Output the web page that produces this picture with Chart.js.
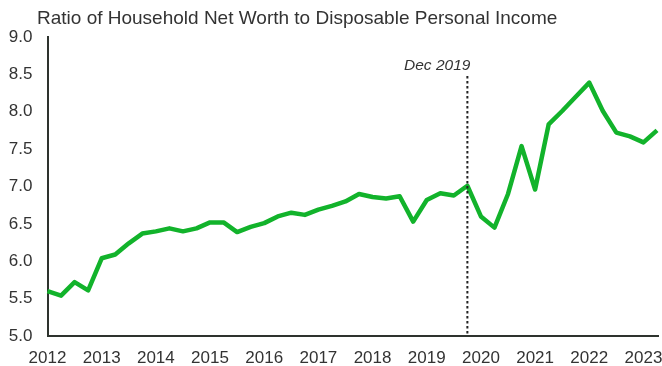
<!DOCTYPE html>
<html>
<head>
<meta charset="utf-8">
<script src="https://cdn.jsdelivr.net/npm/chart.js@4.4.1/dist/chart.umd.min.js"></script>
<style>
  html, body { margin: 0; padding: 0; background: #ffffff; }
  #wrap { width: 662px; height: 366px; }
</style>
</head>
<body>
<div id="wrap"><canvas id="chart" width="662" height="366"></canvas></div>
<script>
// Quarterly observations, 2012 Q1 through 2023 Q2
const quarters = [
  '2012Q1','2012Q2','2012Q3','2012Q4',
  '2013Q1','2013Q2','2013Q3','2013Q4',
  '2014Q1','2014Q2','2014Q3','2014Q4',
  '2015Q1','2015Q2','2015Q3','2015Q4',
  '2016Q1','2016Q2','2016Q3','2016Q4',
  '2017Q1','2017Q2','2017Q3','2017Q4',
  '2018Q1','2018Q2','2018Q3','2018Q4',
  '2019Q1','2019Q2','2019Q3','2019Q4',
  '2020Q1','2020Q2','2020Q3','2020Q4',
  '2021Q1','2021Q2','2021Q3','2021Q4',
  '2022Q1','2022Q2','2022Q3','2022Q4',
  '2023Q1','2023Q2'
];

// Household net worth divided by disposable personal income
const netWorthRatio = [
  5.60, 5.54, 5.72, 5.61,
  6.04, 6.09, 6.24, 6.37,
  6.40, 6.44, 6.40, 6.44,
  6.52, 6.52, 6.39, 6.46,
  6.51, 6.60, 6.65, 6.62,
  6.69, 6.74, 6.80, 6.90,
  6.86, 6.84, 6.87, 6.53,
  6.82, 6.91, 6.88, 7.01,
  6.60, 6.45, 6.90, 7.54,
  6.96, 7.83, 8.01, 8.20,
  8.39, 8.01, 7.72, 7.67,
  7.59, 7.75
];

// Axis ticks
const yTicks = [5.0, 5.5, 6.0, 6.5, 7.0, 7.5, 8.0, 8.5, 9.0];
const yearLabels = ['2012','2013','2014','2015','2016','2017','2018','2019','2020','2021','2022','2023'];

// Marked quarter
const markerQuarter = '2019Q4';
const markerText = 'Dec 2019';

const chartTitle = 'Ratio of Household Net Worth to Disposable Personal Income';

const TEXT = '#333333';
const AXIS = '#2e332e';
const GREEN = '#12b32b';
const FONT = "'Liberation Sans', Arial, sans-serif";

// Title and the dotted reference line with its italic caption
const overlays = {
  id: 'overlays',
  afterDatasetsDraw(chart) {
    const ctx = chart.ctx;
    const x = chart.scales.x.getPixelForValue(quarters.indexOf(markerQuarter));
    const area = chart.chartArea;
    ctx.save();
    ctx.strokeStyle = '#222222';
    ctx.lineWidth = 2;
    ctx.setLineDash([2.5, 2.5]);
    ctx.beginPath();
    ctx.moveTo(x, 76);
    ctx.lineTo(x, area.bottom);
    ctx.stroke();
    ctx.setLineDash([]);
    ctx.fillStyle = TEXT;
    ctx.font = 'italic 15.5px ' + FONT;
    ctx.textAlign = 'right';
    ctx.textBaseline = 'alphabetic';
    ctx.fillText(markerText, x + 3, 70);
    ctx.restore();
  },
  afterDraw(chart) {
    const ctx = chart.ctx;
    const area = chart.chartArea;
    ctx.save();
    // axis line runs a little past the last quarter
    ctx.strokeStyle = AXIS;
    ctx.lineWidth = 2;
    ctx.beginPath();
    ctx.moveTo(area.right - 1, area.bottom);
    ctx.lineTo(area.right + 2, area.bottom);
    ctx.stroke();
    ctx.fillStyle = TEXT;
    ctx.font = '19px ' + FONT;
    ctx.textAlign = 'left';
    ctx.textBaseline = 'alphabetic';
    ctx.fillText(chartTitle, 37, 24);
    ctx.restore();
  }
};

new Chart(document.getElementById('chart'), {
  type: 'line',
  data: {
    labels: quarters,
    datasets: [{
      data: netWorthRatio,
      borderColor: GREEN,
      backgroundColor: GREEN,
      borderWidth: 4.5,
      borderJoinStyle: 'round',
      borderCapStyle: 'butt',
      pointRadius: 0,
      tension: 0,
      fill: false
    }]
  },
  options: {
    responsive: false,
    devicePixelRatio: 1,
    animation: false,
    layout: { autoPadding: false, padding: { left: 0, right: 5, top: 37, bottom: 0 } },
    plugins: {
      legend: { display: false },
      tooltip: { enabled: false },
      title: { display: false }
    },
    scales: {
      x: {
        type: 'category',
        offset: false,
        grid: { display: false, drawTicks: false },
        border: { display: true, color: AXIS, width: 2 },
        afterFit(scale) {
          scale.height = 30;
          scale.paddingLeft = 0;
          scale.paddingRight = 0;
        },
        ticks: {
          autoSkip: false,
          maxRotation: 0,
          minRotation: 0,
          padding: 12,
          color: TEXT,
          font: { family: FONT, size: 17 },
          callback(value, index) {
            const q = quarters[index];
            if (q.endsWith('Q1')) {
              const yr = q.slice(0, 4);
              return yearLabels.includes(yr) ? yr : '';
            }
            return '';
          }
        }
      },
      y: {
        min: yTicks[0],
        max: yTicks[yTicks.length - 1],
        grid: { display: false, drawTicks: false },
        border: { display: true, color: AXIS, width: 2 },
        afterFit(scale) { scale.width = 47.5; },
        afterBuildTicks(scale) { scale.ticks = yTicks.map(v => ({ value: v })); },
        ticks: {
          padding: 15,
          color: TEXT,
          font: { family: FONT, size: 17 },
          callback(value) { return Number(value).toFixed(1); }
        }
      }
    }
  },
  plugins: [overlays]
});
</script>
</body>
</html>
